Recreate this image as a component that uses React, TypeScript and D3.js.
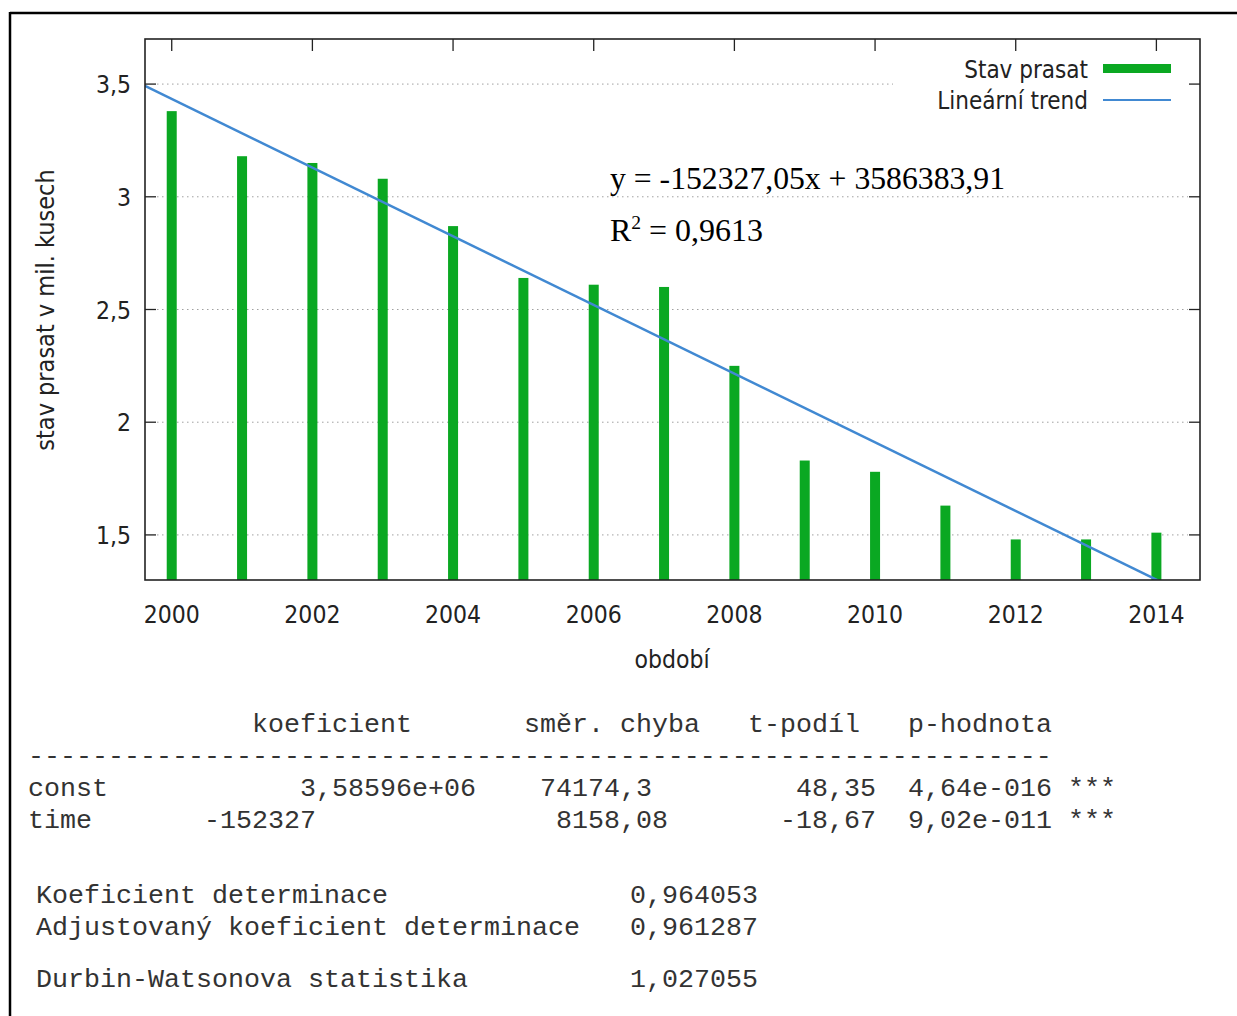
import * as d3 from "d3"

// stav prasat (mil. kusů) podle roku
const years = [2000, 2001, 2002, 2003, 2004, 2005, 2006, 2007, 2008, 2009, 2010, 2011, 2012, 2013, 2014]
const pigs = [3.38, 3.18, 3.15, 3.08, 2.87, 2.64, 2.61, 2.6, 2.25, 1.83, 1.78, 1.63, 1.48, 1.48, 1.51]

const xTicks = [2000, 2002, 2004, 2006, 2008, 2010, 2012, 2014]
const yTicks = [1.5, 2, 2.5, 3, 3.5]

// regresní přímka (time = 1 pro rok 2000)
const trendSlope = -152327.05
const trendIntercept = 3586383.91
const equationText = "y = -152327,05x + 3586383,91"
const r2Text = "0,9613"

const legendLabels = ["Stav prasat", "Lineární trend"]

// výstup regrese
const tableHeader = ["koeficient", "směr. chyba", "t-podíl", "p-hodnota"]
const termNames = ["const", "time"]
const coefficients = ["3,58596e+06", "-152327"]
const stdErrors = ["74174,3", "8158,08"]
const tRatios = ["48,35", "-18,67"]
const pValues = ["4,64e-016", "9,02e-011"]
const stars = ["***", "***"]
const statLabels = ["Koeficient determinace", "Adjustovaný koeficient determinace", "Durbin-Watsonova statistika"]
const statValues = ["0,964053", "0,961287", "1,027055"]

const W = 1237
const H = 1016
const plot = { left: 145, top: 39, right: 1200, bottom: 580 }
const sans = "Tahoma, 'DejaVu Sans Condensed', 'Liberation Sans', sans-serif"
const mono = "'Liberation Mono', 'DejaVu Sans Mono', monospace"
const serif = "'Liberation Serif', 'Times New Roman', serif"
const green = "#0aa822"
const blue = "#4189d2"

// sloupce tabulky (v počtu znaků)
const charW = 16
const tableX = 28
const headerCols = [14, 31, 45, 55]
const coefCols = [17, 11]
const seCols = [32, 33]
const tCols = [48, 47]
const pCol = 55
const starCol = 65

export default function App() {
  const x = d3.scaleLinear().domain([1999.62, 2014.62]).range([plot.left, plot.right])
  const y = d3.scaleLinear().domain([1.3, 3.7]).range([plot.bottom, plot.top])
  const fmt = (v: number) => String(v).replace(".", ",")

  const trend = d3
    .line<number>()
    .x((d) => x(d))
    .y((d) => y((trendIntercept + trendSlope * (d - 1999)) / 1e6))

  const col = (c: number) => tableX + c * charW
  const monoText = { fontFamily: mono, fontSize: 26.67, fill: "#333" }

  return (
    <svg width={W} height={H} style={{ position: "absolute", left: 0, top: 0, background: "#fff" }}>
      <defs>
        <clipPath id="plotClip">
          <rect x={plot.left} y={plot.top} width={plot.right - plot.left} height={plot.bottom - plot.top} />
        </clipPath>
      </defs>

      {/* outer frame */}
      <line x1={10} x2={W} y1={13} y2={13} stroke="#000" strokeWidth={2.5} />
      <line x1={10} x2={10} y1={12} y2={H} stroke="#000" strokeWidth={2.5} />

      {/* grid */}
      {yTicks.map((t) => (
        <line
          key={"g" + t}
          x1={plot.left + 12}
          x2={plot.right - 12}
          y1={y(t)}
          y2={y(t)}
          stroke="#a0a0a0"
          strokeWidth={1}
          strokeDasharray="1.5,3.5"
        />
      ))}

      {/* bars */}
      {years.map((yr, i) => (
        <rect key={yr} x={x(yr) - 5} y={y(pigs[i])} width={10} height={plot.bottom - y(pigs[i])} fill={green} />
      ))}

      {/* trend line */}
      <path d={trend(x.domain()) ?? ""} fill="none" stroke={blue} strokeWidth={2.5} clipPath="url(#plotClip)" />

      {/* legend */}
      <rect x={893} y={41} width={305} height={72} fill="#fff" />
      <g fontFamily={sans} fontSize={24} fill="#222" textAnchor="end">
        <text x={1088} y={78}>{legendLabels[0]}</text>
        <text x={1088} y={109}>{legendLabels[1]}</text>
      </g>
      <rect x={1103} y={64} width={68} height={9} fill={green} />
      <line x1={1103} x2={1171} y1={100} y2={100} stroke={blue} strokeWidth={2.2} />

      {/* ticks */}
      {yTicks.map((t) => (
        <g key={"yt" + t} stroke="#222" strokeWidth={1.3}>
          <line x1={plot.left} x2={plot.left + 11} y1={y(t)} y2={y(t)} />
          <line x1={plot.right - 11} x2={plot.right} y1={y(t)} y2={y(t)} />
        </g>
      ))}
      {xTicks.map((t) => (
        <g key={"xt" + t} stroke="#222" strokeWidth={1.3}>
          <line x1={x(t)} x2={x(t)} y1={plot.top} y2={plot.top + 12} />
        </g>
      ))}

      {/* plot frame */}
      <rect
        x={plot.left}
        y={plot.top}
        width={plot.right - plot.left}
        height={plot.bottom - plot.top}
        fill="none"
        stroke="#222"
        strokeWidth={1.6}
      />

      {/* axis labels */}
      <g fontFamily={sans} fontSize={24.5} fill="#222">
        {yTicks.map((t) => (
          <text key={"yl" + t} x={131} y={y(t) + 9} textAnchor="end">
            {fmt(t)}
          </text>
        ))}
        {xTicks.map((t) => (
          <text key={"xl" + t} x={x(t)} y={623} textAnchor="middle">
            {t}
          </text>
        ))}
        <text x={672} y={668} textAnchor="middle">
          období
        </text>
        <text transform="translate(54,310) rotate(-90)" textAnchor="middle" fontSize={25}>
          stav prasat v mil. kusech
        </text>
      </g>

      {/* equation */}
      <g fontFamily={serif} fontSize={31} fill="#000">
        <text x={610} y={189} textLength={395} lengthAdjust="spacingAndGlyphs">
          {equationText}
        </text>
        <text x={610} y={241} textLength={153} lengthAdjust="spacingAndGlyphs">
          R<tspan fontSize={19} dy={-12}>2</tspan>
          <tspan dy={12}> = {r2Text}</tspan>
        </text>
      </g>

      {/* regression table */}
      <g style={monoText} xmlSpace="preserve">
        {tableHeader.map((h, i) => (
          <text key={h} x={col(headerCols[i])} y={732}>
            {h}
          </text>
        ))}
        <text x={tableX} y={764}>
          {"-".repeat(64)}
        </text>
        {termNames.map((n, i) => {
          const yy = 796 + i * 32
          return (
            <g key={n}>
              <text x={tableX} y={yy}>{n}</text>
              <text x={col(coefCols[i])} y={yy}>{coefficients[i]}</text>
              <text x={col(seCols[i])} y={yy}>{stdErrors[i]}</text>
              <text x={col(tCols[i])} y={yy}>{tRatios[i]}</text>
              <text x={col(pCol)} y={yy}>{pValues[i]}</text>
              <text x={col(starCol)} y={yy}>{stars[i]}</text>
            </g>
          )
        })}
        {statLabels.map((s, i) => {
          const yy = [903, 935, 987][i]
          return (
            <g key={s}>
              <text x={36} y={yy}>{s}</text>
              <text x={630} y={yy}>{statValues[i]}</text>
            </g>
          )
        })}
      </g>
    </svg>
  )
}
